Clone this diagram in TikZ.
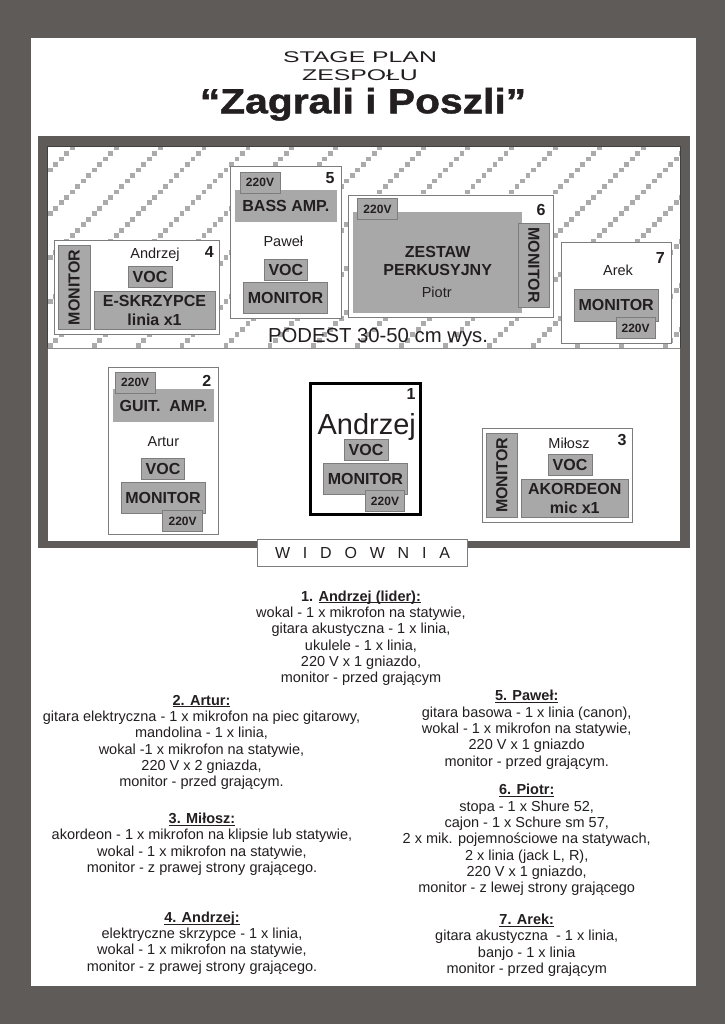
\documentclass[tikz,border=0pt]{standalone}
\usepackage{fontspec}
\usepackage{graphicx}
\setmainfont{Liberation Sans}
\newfontfamily\heavyfont[FakeBold=1.2]{Liberation Sans Bold}
\definecolor{frame}{HTML}{5F5B58}
\definecolor{ink}{HTML}{231F20}
\definecolor{fillg}{HTML}{A9A8A8}
\definecolor{edgeg}{HTML}{7E7C7C}
\definecolor{hatchg}{HTML}{ABABAB}
\newcommand{\fs}[2]{\fontsize{#1}{#2}\selectfont}
\newcommand{\bx}[7]{\node[#1,minimum width={(#5-(#3))*1pt},minimum height={(#6-(#4))*1pt}] (#2) at ({(#3+#5)/2},{(#4+#6)/2}) {#7};}
\newcommand{\vmon}{\rotatebox{90}{MONITOR}}
\newcommand{\vmonr}{\rotatebox{-90}{MONITOR}}
\newcommand{\uln}[1]{\vphantom{1}\underline{\smash{#1}}}
\tikzset{
  allbox/.style={inner sep=0pt,outer sep=0pt,text=ink,align=center},
  whitebox/.style={allbox,rectangle,draw=edgeg,fill=white,line width=0.7pt},
  leader/.style={allbox,rectangle,draw=black,fill=white,line width=3.6pt},
  graybox/.style={allbox,rectangle,draw=edgeg,fill=fillg,line width=0.8pt,font=\bfseries\fs{16}{19.5}},
  amp/.style={allbox,rectangle,fill=fillg,font=\bfseries\fs{16}{19.5}},
  plug/.style={allbox,rectangle,draw=edgeg,fill=fillg,line width=0.8pt,font=\bfseries\fs{12}{14}},
  who/.style={text=ink,inner sep=0pt,font=\fs{14.5}{16}},
  num/.style={text=ink,inner sep=0pt,font=\bfseries\fs{16}{18}},
  body/.style={text=ink,inner sep=0pt,align=center,font=\fs{14.5}{16.3}},
}
\begin{document}
\begin{tikzpicture}[x=1pt,y=-1pt]
\useasboundingbox (0,0) rectangle (725,1024);
\fill[frame] (0,0) rectangle (725,1024);
\fill[white] (30.5,38.5) rectangle (695.5,985.5);
\fill[frame] (37.5,136) rectangle (690,548);
\fill[white] (47.5,146) rectangle (680,541);
\begin{scope}
\clip (47.5,146) rectangle (680,348);
\foreach \k in {0,...,19}{
  \foreach \j in {0,...,36}{
    \fill[hatchg] ({50.3+5.49*(4+8*\k-\j)-2.4},{148+5.49*\j-2.4}) rectangle +(4.8,4.8);
  }
}
\end{scope}
\draw[black!75,line width=0.5pt] (47.5,348) -- (47.5,146) -- (680,146) -- (680,348);
\draw[black!45,line width=0.9pt] (47.5,348) -- (680,348);

% title
\node[text=ink,inner sep=0pt,xscale=1.6,font=\fs{15.5}{18}] (t1) at (360,57) {STAGE PLAN};
\node[text=ink,inner sep=0pt,xscale=1.6,font=\fs{15.5}{18}] (t2) at (360,75.5) {ZESPOŁU};
\node[text=ink,inner sep=0pt,anchor=base,xscale=1.165,font=\heavyfont\fs{35}{38}] (t3) at (363,113.3) {“Zagrali i Poszli”};

% box 4
\bx{whitebox}{b4}{54.3}{240.7}{219.3}{334.3}{}
\bx{graybox}{m4}{58.3}{245.3}{90}{329.7}{\vmon}
\node[who] (n4) at (155,255) {Andrzej};
\node[num] (d4) at (209.3,251.7) {4};
\bx{graybox}{v4}{128}{266.7}{172}{287.3}{VOC}
\bx{graybox}{e4}{94}{291.3}{215}{329.7}{E-SKRZYPCE\\linia x1}
% box 5
\bx{whitebox}{b5}{230.7}{166.7}{341.3}{318.3}{}
\bx{amp}{a5}{235}{190}{336.7}{222.3}{BASS AMP.}
\bx{plug}{p5}{240}{172.3}{280}{193}{220V}
\node[num] (d5) at (330,178) {5};
\node[who] (n5) at (283.3,241) {Paweł};
\bx{graybox}{v5}{264}{259.3}{307.7}{280}{VOC}
\bx{graybox}{m5}{243.3}{282.7}{327.7}{313.3}{MONITOR}
% box 6
\bx{whitebox}{b6}{348.3}{195.7}{553.3}{317.7}{}
\bx{amp}{a6}{353.3}{212}{522.3}{313.3}{}
\bx{plug}{p6}{357.3}{198.7}{397.7}{219.3}{220V}
\node[allbox,font=\bfseries\fs{16}{18.3}] (z6) at (437.7,261.2) {ZESTAW\\PERKUSYJNY};
\node[who] (n6) at (436.7,292.7) {Piotr};
\bx{graybox}{m6}{518}{223.3}{549.7}{307.3}{\vmonr}
\node[num] (d6) at (541,209.7) {6};
% box 7
\bx{whitebox}{b7}{561.3}{242.7}{671.7}{343.7}{}
\node[who] (n7) at (618,270.3) {Arek};
\node[num] (d7) at (660.3,258.3) {7};
\bx{graybox}{m7}{574}{289.3}{658.3}{321.3}{MONITOR}
\bx{plug}{p7}{616}{317.3}{655.3}{338.7}{220V}

\node[text=ink,inner sep=0pt,font=\fs{20.3}{22}] (podest) at (378,338) {PODEST 30-50 cm wys.};

% box 2
\bx{whitebox}{b2}{108.3}{367.7}{218}{534.3}{}
\bx{amp}{a2}{113}{389}{214}{422}{GUIT.\ \ AMP.}
\bx{plug}{p2a}{115.4}{372.3}{155}{393}{220V}
\node[num] (d2) at (206.8,380.7) {2};
\node[who] (n2) at (163.4,442) {Artur};
\bx{graybox}{v2}{141.5}{458.7}{184.5}{479}{VOC}
\bx{graybox}{m2}{121}{482.7}{205}{513.7}{MONITOR}
\bx{plug}{p2b}{162.6}{510.3}{202.6}{531.7}{220V}
% box 1
\bx{leader}{b1}{310.5}{383.5}{420.5}{514.5}{}
\node[num] (d1) at (411,394) {1};
\node[text=ink,inner sep=0pt,font=\fs{29}{32}] (n1) at (366.7,427) {Andrzej};
\bx{graybox}{v1}{344}{439}{388}{460}{VOC}
\bx{graybox}{m1}{323.3}{463}{407.5}{494}{MONITOR}
\bx{plug}{p1}{365.4}{490.7}{404.6}{511.7}{220V}
% box 3
\bx{whitebox}{b3}{482.4}{428.3}{632}{522.7}{}
\bx{graybox}{m3}{486}{433}{517.8}{517.7}{\vmon}
\node[who] (n3) at (569,443) {Miłosz};
\node[num] (d3) at (622,439.7) {3};
\bx{graybox}{v3}{548}{454.7}{592}{475.3}{VOC}
\bx{graybox}{e3}{521}{479.3}{628.5}{517.7}{AKORDEON\\mic x1}

% widownia
\bx{whitebox}{wid}{257.7}{539.7}{467.3}{566.7}{\fs{16}{18}\spaceskip=12.8pt W I D O W N I A}

% descriptions
\node[body] (l1) at (361,638.5) {\textbf{1. \uln{Andrzej (lider):}}\\wokal - 1 x mikrofon na statywie,\\gitara akustyczna - 1 x linia,\\ukulele - 1 x linia,\\220 V x 1 gniazdo,\\monitor - przed grającym};
\node[body] (l2) at (201.5,742.5) {\textbf{\uln{2. Artur:}}\\gitara elektryczna - 1 x mikrofon na piec gitarowy,\\mandolina - 1 x linia,\\wokal -1 x mikrofon na statywie,\\220 V x 2 gniazda,\\monitor - przed grającym.};
\node[body] (l3) at (202,844.5) {\textbf{\uln{3. Miłosz:}}\\akordeon - 1 x mikrofon na klipsie lub statywie,\\wokal - 1 x mikrofon na statywie,\\monitor - z prawej strony grającego.};
\node[body] (l4) at (202,943.3) {\textbf{\uln{4. Andrzej:}}\\elektryczne skrzypce - 1 x linia,\\wokal - 1 x mikrofon na statywie,\\monitor - z prawej strony grającego.};
\node[body] (l5) at (526.7,730) {\textbf{\uln{5. Paweł:}}\\gitara basowa - 1 x linia (canon),\\wokal - 1 x mikrofon na statywie,\\220 V x 1 gniazdo\\monitor - przed grającym.};
\node[body] (l6) at (526.7,840.3) {\textbf{\uln{6. Piotr:}}\\stopa - 1 x Shure 52,\\cajon - 1 x Schure sm 57,\\2 x mik. pojemnościowe na statywach,\\2 x linia (jack L, R),\\220 V x 1 gniazdo,\\monitor - z lewej strony grającego};
\node[body] (l7) at (526.7,945.5) {\textbf{\uln{7. Arek:}}\\gitara akustyczna\ \ - 1 x linia,\\banjo - 1 x linia\\monitor - przed grającym};
\end{tikzpicture}
\end{document}
